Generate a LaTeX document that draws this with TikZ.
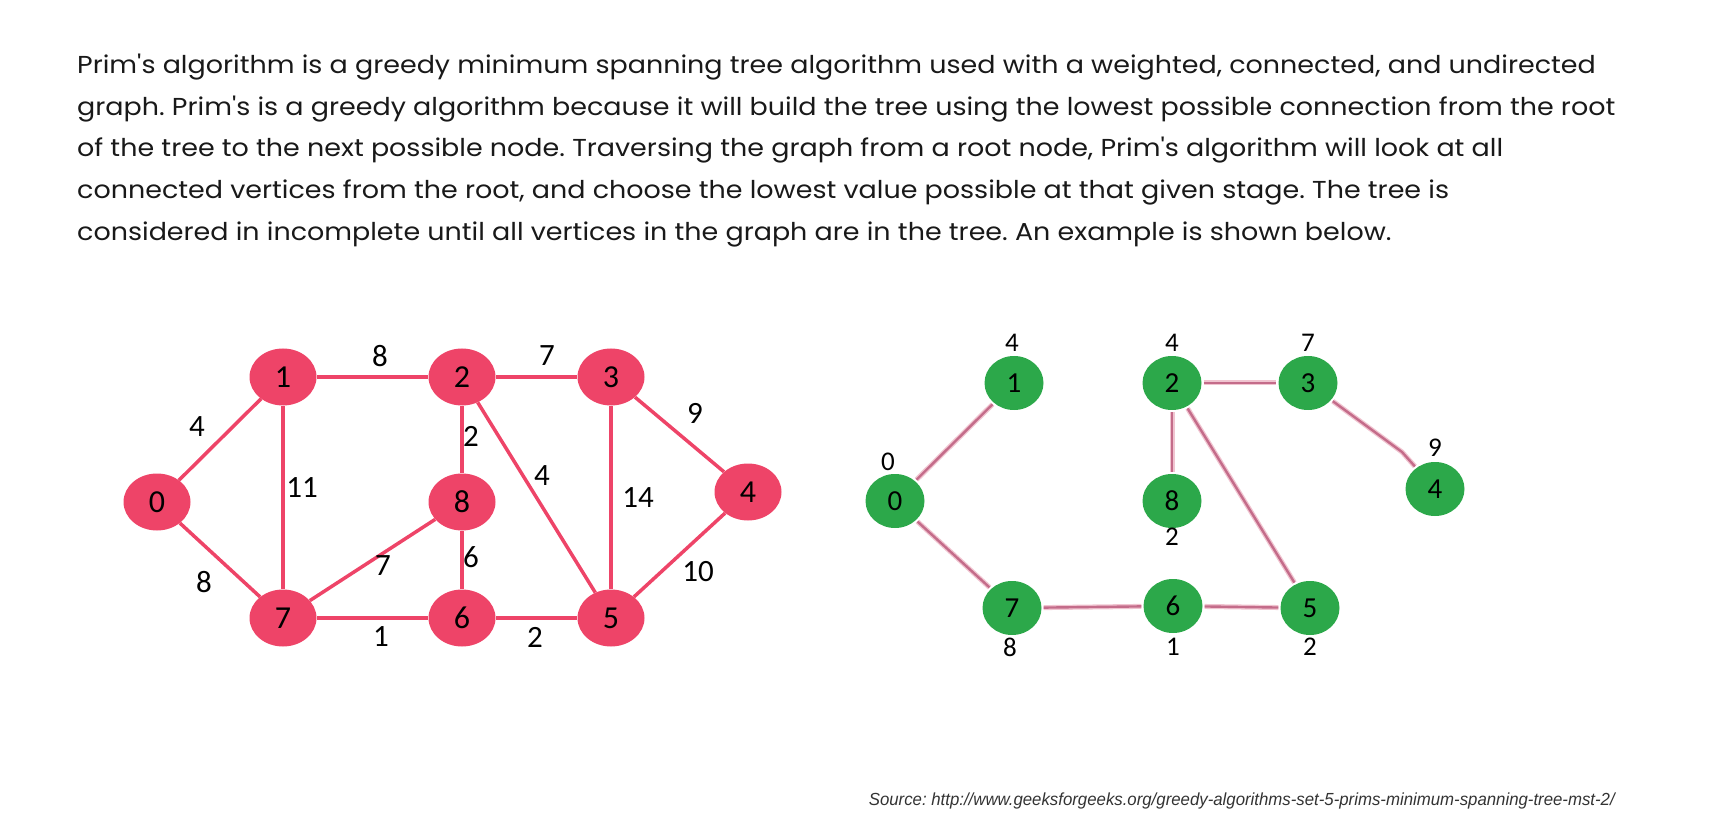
\documentclass[tikz,border=0pt]{standalone}
\usepackage{fontspec}
\setmainfont{Poppins}[Ligatures=TeXOff, FakeStretch=1.10]
\newfontfamily\digitfont{Carlito}
\newfontfamily\srcfont[FakeStretch=0.96]{Liberation Sans}
\usetikzlibrary{shapes.geometric}

\definecolor{primpink}{RGB}{238,68,104}
\definecolor{primgreen}{RGB}{44,168,74}
\definecolor{treeedge}{RGB}{196,108,138}
\definecolor{treehalo}{RGB}{240,196,208}
\definecolor{inktext}{RGB}{25,25,25}

\begin{document}
\frenchspacing
\begin{tikzpicture}[x=1pt,y=-1pt,
  vert/.style={ellipse, fill=primpink, minimum width=67, minimum height=57,
    inner sep=0pt, font=\digitfont\fontsize{32}{32}\selectfont},
  gedge/.style={draw=primpink, line width=3.5},
  weight/.style={font=\digitfont\fontsize{31}{31}\selectfont, inner sep=0pt},
  mstvert/.style={ellipse, fill=primgreen, minimum width=59, minimum height=54,
    inner sep=0pt, font=\digitfont\fontsize{29}{29}\selectfont},
  mstedge/.style={draw=treeedge, line width=2.4, shorten <=2, shorten >=2,
    preaction={draw=treehalo, line width=5, shorten <=2, shorten >=2}},
  dist/.style={font=\digitfont\fontsize{27}{27}\selectfont, inner sep=0pt},
  para/.style={anchor=base west, inner sep=0pt, text=inktext,
    font=\fontsize{24.5}{28}\selectfont}
]
  \useasboundingbox (0,0) rectangle (1709,834);

  % ====================================================
  % TEXT
  % ====================================================
  \node[para] (line1) at (77,74) {Prim's algorithm is a greedy minimum spanning tree algorithm used with a weighted, connected, and undirected};
  \node[para] (line2) at (77,116) {graph. Prim's is a greedy algorithm because it will build the tree using the lowest possible connection from the root};
  \node[para] (line3) at (77,157) {of the tree to the next possible node. Traversing the graph from a root node, Prim's algorithm will look at all};
  \node[para] (line4) at (77,199) {connected vertices from the root, and choose the lowest value possible at that given stage. The tree is};
  \node[para] (line5) at (77,241) {considered in incomplete until all vertices in the graph are in the tree. An example is shown below.};

  % ====================================================
  % LEFT: WEIGHTED GRAPH
  % ====================================================
  \node[vert] (l0) at (157,502) {0};
  \node[vert] (l1) at (283,377) {1};
  \node[vert] (l2) at (462,377) {2};
  \node[vert] (l3) at (611,377) {3};
  \node[vert] (l4) at (748,492) {4};
  \node[vert] (l8) at (462,502) {8};
  \node[vert] (l7) at (283,618) {7};
  \node[vert] (l6) at (462,618) {6};
  \node[vert] (l5) at (611,618) {5};

  \foreach \a/\b in {0/1,0/7,1/2,1/7,2/3,2/8,2/5,3/4,3/5,4/5,8/7,8/6,7/6,6/5}
    \draw[gedge] (l\a) -- (l\b);

  \node[weight] (w12) at (380,356) {8};
  \node[weight] (w23) at (547,356) {7};
  \node[weight] (w01) at (197,427) {4};
  \node[weight] (w34) at (695,413) {9};
  \node[weight] (w28) at (471,436) {2};
  \node[weight] (w17) at (302,488) {11};
  \node[weight] (w25) at (542,476) {4};
  \node[weight] (w35) at (638,498) {14};
  \node[weight] (w86) at (471,557) {6};
  \node[weight] (w78) at (383,566) {7};
  \node[weight] (w07) at (204,582) {8};
  \node[weight] (w45) at (698,572) {10};
  \node[weight] (w76) at (381,637) {1};
  \node[weight] (w65) at (535,637) {2};

  % ====================================================
  % RIGHT: MINIMUM SPANNING TREE
  % ====================================================
  \node[mstvert] (r0) at (895,501) {0};
  \node[mstvert] (r1) at (1014,383) {1};
  \node[mstvert] (r2) at (1172,383) {2};
  \node[mstvert] (r3) at (1308,383) {3};
  \node[mstvert] (r4) at (1435,489) {4};
  \node[mstvert] (r8) at (1172,501) {8};
  \node[mstvert] (r7) at (1012,608) {7};
  \node[mstvert] (r6) at (1173,606) {6};
  \node[mstvert] (r5) at (1310,608) {5};

  \coordinate (k34) at (1402,452);
  \foreach \a/\b in {0/1,0/7,2/3,2/8,2/5,7/6,6/5}
    \draw[mstedge] (r\a) -- (r\b);
  \draw[mstedge] (r3) -- (k34) -- (r4);

  \node[dist] (d0) at (888,462) {0};
  \node[dist] (d1) at (1012,343) {4};
  \node[dist] (d2) at (1172,343) {4};
  \node[dist] (d3) at (1308,343) {7};
  \node[dist] (d4) at (1435,448) {9};
  \node[dist] (d8) at (1172,537) {2};
  \node[dist] (d7) at (1010,647) {8};
  \node[dist] (d6) at (1173,647) {1};
  \node[dist] (d5) at (1310,647) {2};

  % source line
  \node[anchor=base east, inner sep=0pt, text=black!80,
    font=\srcfont\itshape\fontsize{17.5}{17.5}\selectfont] (source) at (1615,805)
    {Source: http://www.geeksforgeeks.org/greedy-algorithms-set-5-prims-minimum-spanning-tree-mst-2/};
\end{tikzpicture}
\end{document}
